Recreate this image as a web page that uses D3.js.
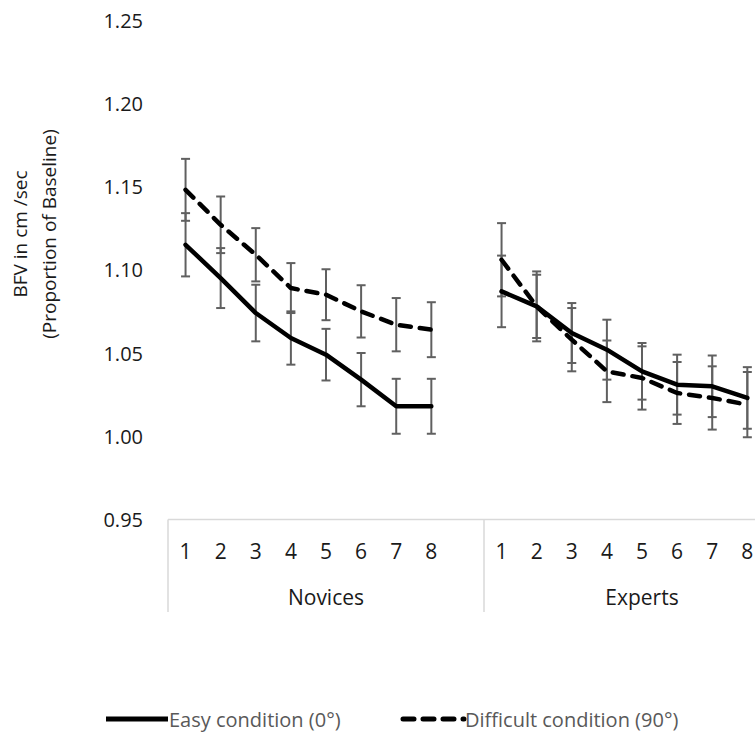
<!DOCTYPE html>
<html>
<head>
<meta charset="utf-8">
<script src="https://cdn.jsdelivr.net/npm/d3@7"></script>
<style>
  html, body { margin: 0; padding: 0; background: #fff; }
  svg { display: block; font-family: "Open Sans", "Noto Sans", sans-serif; }
</style>
</head>
<body>
<svg id="chart" width="755" height="734"></svg>
<script>
// ---- data ----
const groups = ["Novices", "Experts"];
const sessions = ["1", "2", "3", "4", "5", "6", "7", "8"];
const yTicks = [0.95, 1.00, 1.05, 1.10, 1.15, 1.20, 1.25];

const easyNovices      = [1.115, 1.095, 1.074, 1.059, 1.049, 1.034, 1.018, 1.018];
const easyNovicesErr   = [0.019, 0.018, 0.017, 0.016, 0.0155, 0.016, 0.0165, 0.0165];
const easyExperts      = [1.087, 1.078, 1.062, 1.052, 1.039, 1.031, 1.030, 1.023];
const easyExpertsErr   = [0.0215, 0.019, 0.018, 0.018, 0.017, 0.018, 0.0185, 0.0185];

const diffNovices      = [1.148, 1.127, 1.109, 1.089, 1.085, 1.075, 1.067, 1.064];
const diffNovicesErr   = [0.0186, 0.017, 0.016, 0.015, 0.0153, 0.0157, 0.016, 0.0165];
const diffExperts      = [1.106, 1.078, 1.058, 1.039, 1.035, 1.026, 1.023, 1.019];
const diffExpertsErr   = [0.022, 0.021, 0.019, 0.0185, 0.019, 0.0186, 0.019, 0.0196];

const seriesNames = ["Easy condition (0°)", "Difficult condition (90°)"];
const yTitle = ["BFV in cm /sec", "(Proportion of Baseline)"];

// ---- build ----
const series = [
  { name: seriesNames[0], dash: null,
    groups: [ {g: "Novices", v: easyNovices, e: easyNovicesErr}, {g: "Experts", v: easyExperts, e: easyExpertsErr} ] },
  { name: seriesNames[1], dash: "11,9",
    groups: [ {g: "Novices", v: diffNovices, e: diffNovicesErr}, {g: "Experts", v: diffExperts, e: diffExpertsErr} ] }
];

const svg = d3.select("#chart");
const plotLeft = 168, groupW = 316;
const yTop = 20, yBottom = 519.5;

const y = d3.scaleLinear().domain([0.95, 1.25]).range([yBottom, yTop]);
const xGroup = d3.scaleBand().domain(groups).range([plotLeft, plotLeft + groupW * groups.length]);
const xInner = d3.scaleBand().domain(sessions.concat(["__gap"])).range([0, groupW]);
const xPos = (g, s) => xGroup(g) + xInner(s) + xInner.bandwidth() / 2;

// y tick labels (no axis line)
svg.append("g").selectAll("text").data(yTicks).join("text")
  .attr("x", 143).attr("y", d => y(d))
  .attr("text-anchor", "end").attr("dominant-baseline", "central")
  .attr("font-size", 20).attr("fill", "#1a1a1a")
  .text(d => d.toFixed(2));

// y title
const yt = svg.append("text")
  .attr("transform", "translate(36,234) rotate(-90)")
  .attr("text-anchor", "middle").attr("font-size", 19).attr("fill", "#1a1a1a");
yt.append("tspan").attr("x", 0).attr("dy", "-0.45em").text(yTitle[0]);
yt.append("tspan").attr("x", 0).attr("dy", "1.5em").text(yTitle[1]);

// x axis line and group separators
const axisColor = "#d9d9d9";
svg.append("line")
  .attr("x1", plotLeft).attr("x2", plotLeft + groupW * 2)
  .attr("y1", y(0.95)).attr("y2", y(0.95))
  .attr("stroke", axisColor).attr("stroke-width", 1.5);
const boundaries = groups.map(g => xGroup(g)).concat([xGroup(groups[groups.length - 1]) + groupW]);
svg.append("g").selectAll("line").data(boundaries).join("line")
  .attr("x1", d => d).attr("x2", d => d)
  .attr("y1", y(0.95)).attr("y2", 612)
  .attr("stroke", axisColor).attr("stroke-width", 1.5);

// category labels
groups.forEach(g => {
  svg.append("g").selectAll("text").data(sessions).join("text")
    .attr("x", s => xPos(g, s)).attr("y", 551)
    .attr("text-anchor", "middle").attr("dominant-baseline", "central")
    .attr("font-size", 21).attr("fill", "#1a1a1a")
    .text(s => s);
  svg.append("text")
    .attr("x", xGroup(g) + groupW / 2).attr("y", 597)
    .attr("text-anchor", "middle").attr("dominant-baseline", "central")
    .attr("font-size", 21).attr("fill", "#1a1a1a")
    .text(g);
});

// error bars
const errColor = "#606060";
series.forEach(sr => {
  sr.groups.forEach(gr => {
    const eg = svg.append("g").attr("stroke", errColor).attr("stroke-width", 2);
    sessions.forEach((s, i) => {
      const cx = xPos(gr.g, s);
      const lo = y(gr.v[i] - gr.e[i]), hi = y(gr.v[i] + gr.e[i]);
      eg.append("line").attr("x1", cx).attr("x2", cx).attr("y1", lo).attr("y2", hi);
      eg.append("line").attr("x1", cx - 4.5).attr("x2", cx + 4.5).attr("y1", lo).attr("y2", lo);
      eg.append("line").attr("x1", cx - 4.5).attr("x2", cx + 4.5).attr("y1", hi).attr("y2", hi);
    });
  });
});

// lines
const line = d3.line().x(d => d.x).y(d => d.y);
series.forEach(sr => {
  sr.groups.forEach(gr => {
    const pts = sessions.map((s, i) => ({ x: xPos(gr.g, s), y: y(gr.v[i]) }));
    svg.append("path")
      .attr("d", line(pts))
      .attr("fill", "none").attr("stroke", "#000").attr("stroke-width", 4.5)
      .attr("stroke-linejoin", "round").attr("stroke-linecap", "round")
      .attr("stroke-dasharray", sr.dash);
  });
});

// legend
const legY = 719;
const legItems = [
  { name: seriesNames[0], dash: null, x0: 106, x1: 168 },
  { name: seriesNames[1], dash: "11,9", x0: 403, x1: 464 }
];
legItems.forEach(it => {
  svg.append("line")
    .attr("x1", it.x0).attr("x2", it.x1).attr("y1", legY).attr("y2", legY)
    .attr("stroke", "#000").attr("stroke-width", 5)
    .attr("stroke-linecap", it.dash ? "round" : "butt")
    .attr("stroke-dasharray", it.dash);
  svg.append("text")
    .attr("x", it.x1 + 1).attr("y", legY)
    .attr("dominant-baseline", "central")
    .attr("font-size", 20).attr("fill", "#595959")
    .text(it.name);
});
</script>
</body>
</html>
